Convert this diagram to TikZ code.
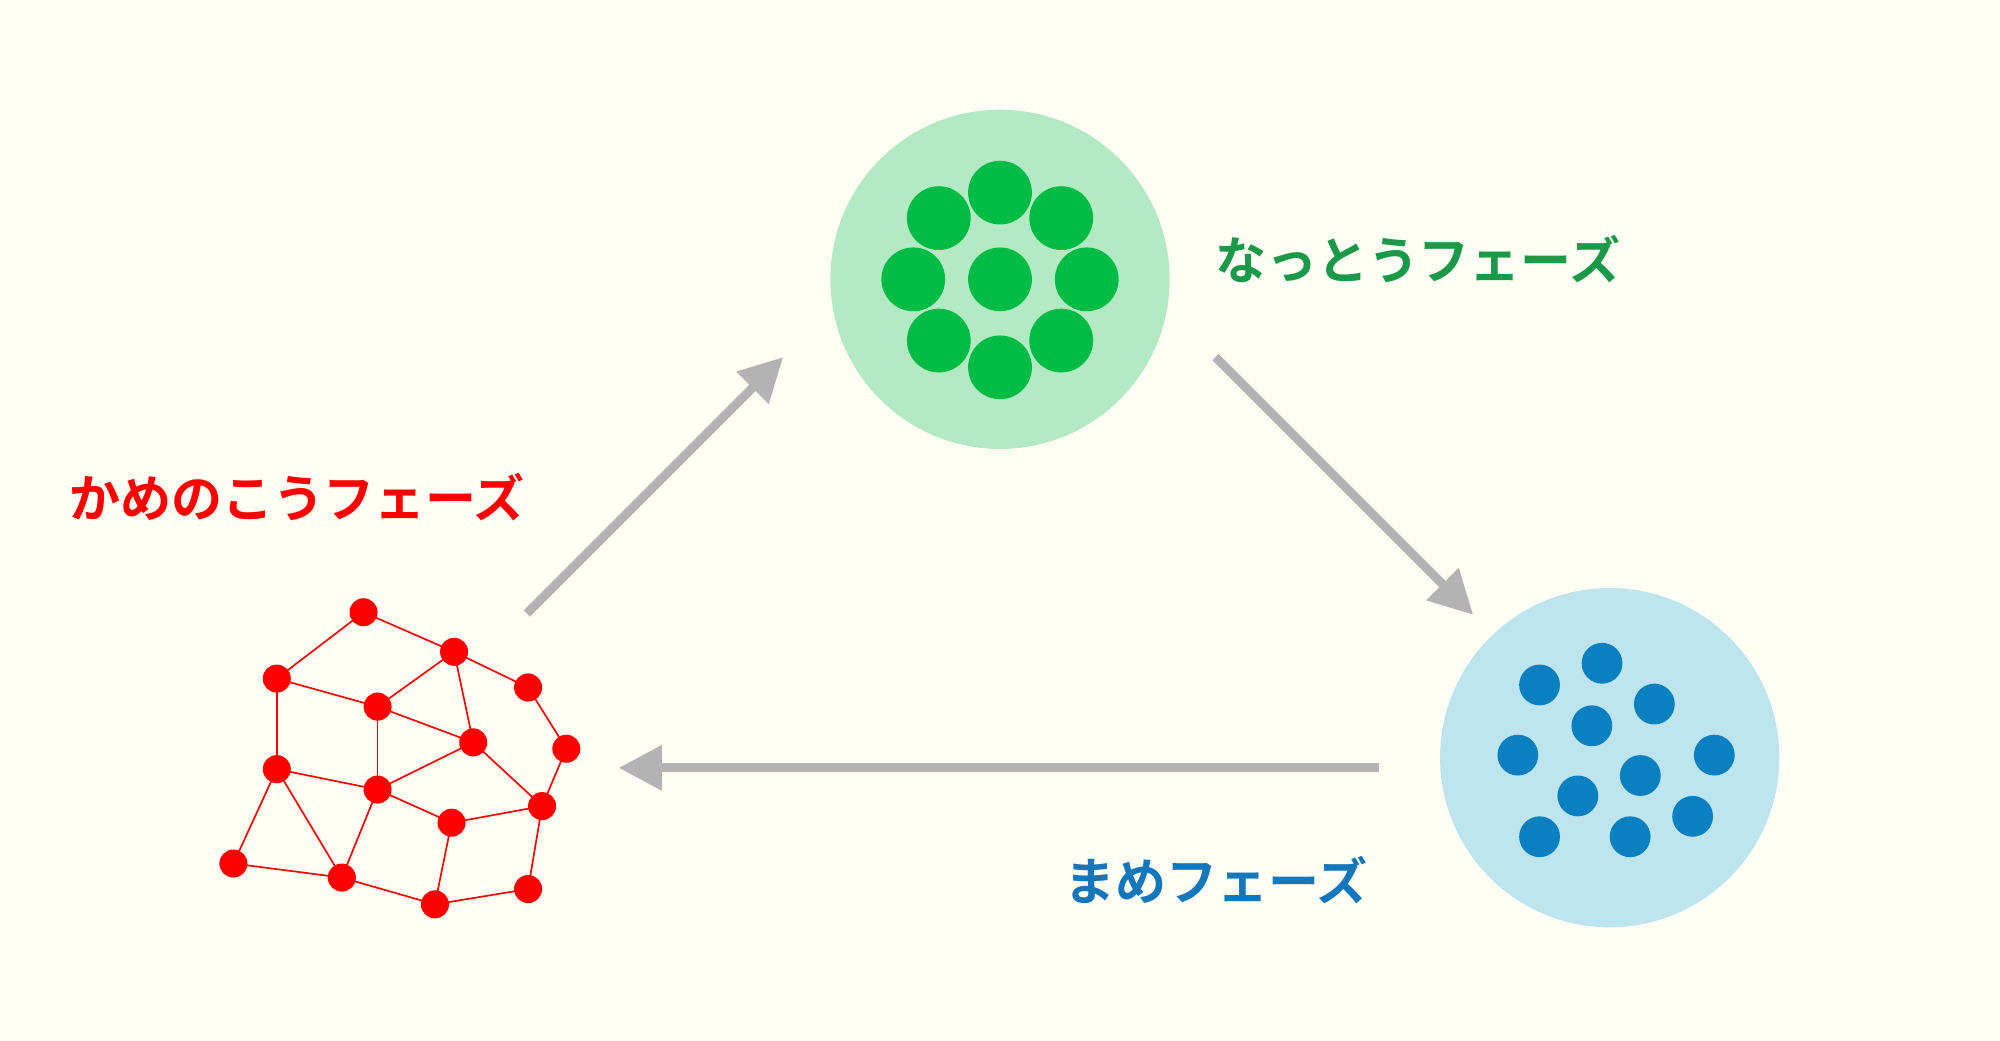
\documentclass[tikz,border=0pt]{standalone}
\usepackage{fontspec}
\newfontfamily\jp{Noto Sans CJK JP Bold}
\usetikzlibrary{arrows.meta,backgrounds}
\definecolor{bg}{HTML}{FFFEF5}
\definecolor{lgreen}{HTML}{B3EAC4}
\definecolor{dgreen}{HTML}{00BB44}
\definecolor{tgreen}{HTML}{1A9A48}
\definecolor{lblue}{HTML}{BEE5EE}
\definecolor{dblue}{HTML}{0A80C0}
\definecolor{tblue}{HTML}{1477BB}
\definecolor{red1}{HTML}{FF0000}
\definecolor{arr}{HTML}{B3B3B3}
\begin{document}
\begin{tikzpicture}[x=1pt,y=-1pt,
  lbl/.style={font=\jp\fontsize{40}{40}\selectfont,inner sep=0,anchor=west},
  gd/.style={circle,fill=dgreen,minimum size=50,inner sep=0},
  bd/.style={circle,fill=dblue,minimum size=32,inner sep=0},
  rd/.style={circle,fill=red1,minimum size=22,inner sep=0},
  ar/.style={arr,line width=7,-{Triangle[length=34,width=34]}}]
\useasboundingbox (0,0) rectangle (1568,816);
% green
\node[circle,fill=lgreen,minimum size=266,inner sep=0] (G) at (784,219) {};
\foreach \x/\y [count=\i] in {784/219,784/151,832/171,852/219,832/267,784/288,736/267,716/219,736/171}
  \node[gd] (g\i) at (\x,\y) {};
% blue
\node[circle,fill=lblue,minimum size=266,inner sep=0] (B) at (1262,594) {};
\foreach \x/\y [count=\i] in {1207/537,1256/520,1297/552,1248/569,1190/592,1344/592,1286/608,1237/624,1327/640,1207/656,1278/656}
  \node[bd] (b\i) at (\x,\y) {};
% red network
\foreach \n/\x/\y in {a/285/480,b/356/511,c/217/532,d/414/539,e/296/554,f/371/582,g/444/587,h/217/603,i/296/619,j/425/632,k/354/645,l/183/677,m/268/688,n/414/697,o/341/709}
  \node[rd] (\n) at (\x,\y) {};
\begin{scope}[on background layer]
\fill[bg] (0,0) rectangle (1568,816);
\foreach \u/\v in {a/c,a/b,b/d,d/g,g/j,j/n,n/o,o/k,k/j,b/f,e/f,f/i,f/j,e/b,e/c,e/i,c/h,h/i,h/l,h/m,l/m,m/i,m/o,i/k}
  \draw[red1,line width=1.3] (\u.center) -- (\v.center);
\end{scope}
% labels
\node[lbl,text=tgreen] (tg) at (953,203) {なっとうフェーズ};
\node[lbl,text=red1] (tr) at (54,390) {かめのこうフェーズ};
\node[lbl,text=tblue] (tb) at (834,690) {まめフェーズ};
% arrows
\coordinate (a1s) at (413,481); \coordinate (a1e) at (614,280);
\coordinate (a2s) at (953,280); \coordinate (a2e) at (1155,482);
\coordinate (a3s) at (1081,602); \coordinate (a3e) at (485,602);
\draw[ar] (a1s) -- (a1e);
\draw[ar] (a2s) -- (a2e);
\draw[ar] (a3s) -- (a3e);
\end{tikzpicture}
\end{document}
